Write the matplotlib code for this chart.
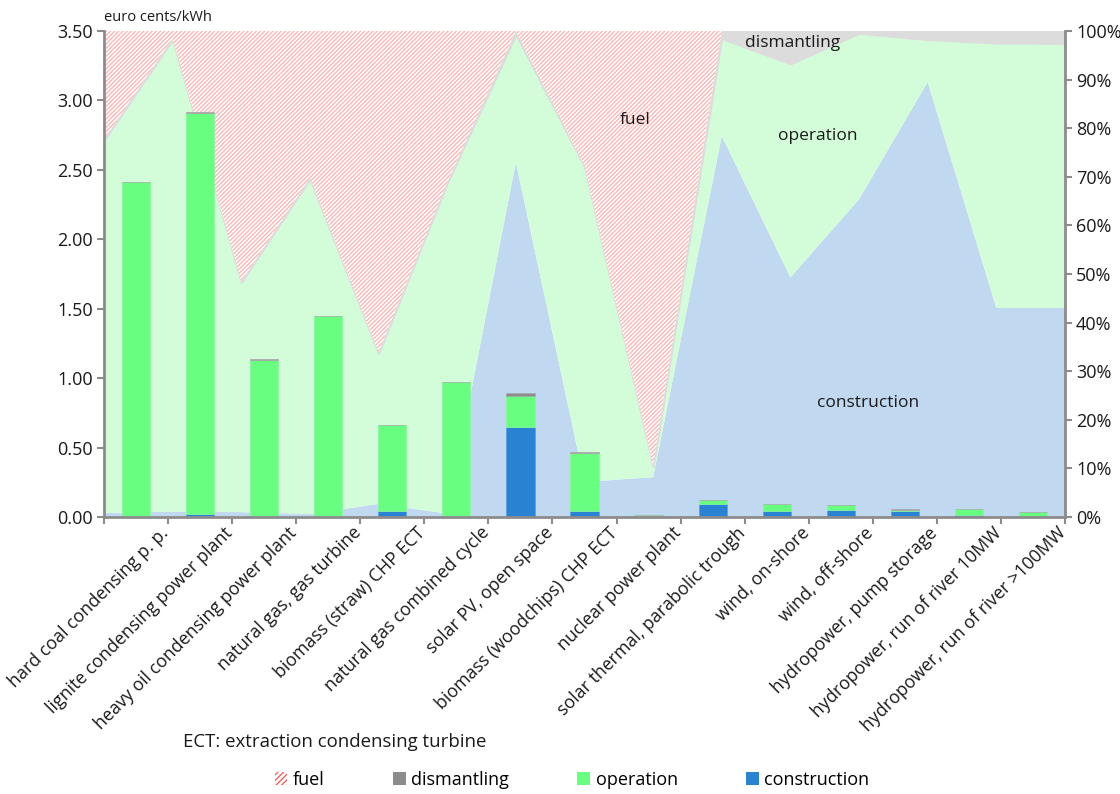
import matplotlib
matplotlib.use("Agg")
import matplotlib.pyplot as plt
from matplotlib.patches import Patch
from matplotlib.ticker import FuncFormatter, FixedLocator
import numpy as np

plt.rcParams['font.family'] = ['Open Sans', 'DejaVu Sans']
plt.rcParams['hatch.linewidth'] = 0.9

# categories
plants = ["hard coal condensing p. p.", "lignite condensing power plant",
          "heavy oil condensing power plant", "natural gas, gas turbine",
          "biomass (straw) CHP ECT", "natural gas combined cycle",
          "solar PV, open space", "biomass (woodchips) CHP ECT",
          "nuclear power plant", "solar thermal, parabolic trough",
          "wind, on-shore", "wind, off-shore", "hydropower, pump storage",
          "hydropower, run of river 10MW", "hydropower, run of river >100MW"]

# bars: euro cents/kWh
constr_bar = [0.010, 0.020, 0.010, 0.005, 0.043, 0.005, 0.649, 0.043, 0.010,
              0.094, 0.045, 0.053, 0.045, 0.017, 0.007]
oper_bar = [2.400, 2.893, 1.123, 1.440, 0.616, 0.964, 0.226, 0.420, 0.006,
            0.025, 0.047, 0.032, 0.008, 0.039, 0.026]
dism_bar = [0.004, 0.005, 0.004, 0.004, 0.004, 0.004, 0.017, 0.003, 0.002,
            0.004, 0.005, 0.002, 0.002, 0.002, 0.001]

# background areas: share in %
constr_share = [0.8, 1.1, 1.0, 0.6, 2.7, 0.7, 73.0, 7.2, 8.2, 78.4, 49.3, 65.4, 89.5, 43.0, 43.0]
oper_share = [76.6, 97.1, 47.2, 68.9, 30.9, 67.9, 26.2, 64.8, 2.1, 20.0, 43.9, 34.1, 8.7, 54.5, 54.4]
dism_share = [0.3, 0.3, 0.3, 0.3, 0.3, 0.3, 0.8, 0.3, 0.3, 1.6, 6.8, 0.5, 1.8, 2.5, 2.6]
fuel_share = [22.3, 1.5, 51.5, 30.2, 66.1, 31.1, 0.0, 27.7, 89.4, 0.0, 0.0, 0.0, 0.0, 0.0, 0.0]

c_bar_con = '#2a82d2'
c_bar_op = '#68ff80'
c_bar_dis = '#8c8c8c'
c_area_con = '#c0d9f1'
c_area_op = '#d3fdd8'
c_area_dis = '#dcdcdc'
c_fuel = '#ffb0b0'
spine_c = '#8c8c8c'
txt_c = '#1a1a1a'

fig = plt.figure(figsize=(11.2, 7.94), dpi=100)
pos = [104/1120, 1 - 517/794, 961/1120, 486/794]

###############################################################################
# area chart (right axis)
ax2 = fig.add_axes(pos)
xa = np.arange(len(plants))
b0 = np.zeros(len(plants))
b1 = b0 + np.array(constr_share)
b2 = b1 + np.array(oper_share)
b3 = b2 + np.array(dism_share)
b4 = b3 + np.array(fuel_share)
ax2.fill_between(xa, b0, b1, facecolor=c_area_con, lw=0)
ax2.fill_between(xa, b1, b2, facecolor=c_area_op, lw=0)
ax2.fill_between(xa, b2, b3, facecolor=c_area_dis, edgecolor=c_area_dis, lw=1.2)
ax2.fill_between(xa, b3, b4, facecolor='white', edgecolor=c_fuel, hatch='////////', lw=0)
ax2.set_xlim(0, len(plants) - 1)
ax2.set_ylim(0, 100)
ax2.yaxis.tick_right()
ax2.set_yticks(np.arange(0, 101, 10))
ax2.yaxis.set_major_formatter(FuncFormatter(lambda v, p: "%d%%" % v))
ax2.set_xticks([])
for s in ['top', 'left', 'bottom']:
    ax2.spines[s].set_visible(False)
ax2.spines['right'].set_color(spine_c)
ax2.spines['right'].set_linewidth(2)
ax2.tick_params(axis='y', colors=spine_c, width=1.5, length=5, labelsize=13,
                labelcolor=txt_c, pad=3)

###############################################################################
# stacked bars (left axis)
ax = fig.add_axes(pos)
ax.patch.set_visible(False)
x = np.arange(len(plants))
w = 0.44
ax.bar(x, constr_bar, w, color=c_bar_con, edgecolor='#5aa0e0', lw=0.5)
ax.bar(x, oper_bar, w, bottom=constr_bar, color=c_bar_op, edgecolor='#8cf5a0', lw=0.5)
ax.bar(x, dism_bar, w, bottom=np.array(constr_bar) + np.array(oper_bar),
       color=c_bar_dis, edgecolor='#aaaaaa', lw=0.5)
ax.set_xlim(-0.5, len(plants) - 0.5)
ax.set_ylim(0, 3.5)
ax.set_yticks(np.arange(0, 3.51, 0.5))
ax.yaxis.set_major_formatter(FuncFormatter(lambda v, p: "%.2f" % v))
ax.xaxis.set_major_locator(FixedLocator(np.arange(-0.5, len(plants), 1.0)))
ax.set_xticklabels([])
for s in ['top', 'right']:
    ax.spines[s].set_visible(False)
for s in ['left', 'bottom']:
    ax.spines[s].set_color(spine_c)
    ax.spines[s].set_linewidth(2)
ax.tick_params(colors=spine_c, width=1.5, length=5, labelsize=13,
               labelcolor=txt_c, pad=3)

# rotated category labels
for i, lab in enumerate(plants):
    ax.text(i + 0.37, -0.014, lab, transform=ax.get_xaxis_transform(),
            rotation=45, rotation_mode='anchor', ha='right', va='top',
            fontsize=12.8, color=txt_c)

ax.text(0, 1.012, "euro cents/kWh", transform=ax.transAxes, fontsize=10.5,
        ha='left', va='bottom', color=txt_c)

# area labels
fig.text(635/1120, 1 - 120/794, "fuel", fontsize=12.5, ha='center', va='center', color=txt_c)
fig.text(818/1120, 1 - 136/794, "operation", fontsize=12.5, ha='center', va='center', color=txt_c)
fig.text(793/1120, 1 - 43/794, "dismantling", fontsize=12.5, ha='center', va='center', color=txt_c)
fig.text(868/1120, 1 - 403/794, "construction", fontsize=12.5, ha='center', va='center', color=txt_c)

fig.text(183/1120, 1 - 742/794, "ECT: extraction condensing turbine", fontsize=13.4,
         ha='left', va='center', color=txt_c)

handles = [Patch(facecolor='white', edgecolor='#ff5050', hatch='//////', lw=0),
           Patch(facecolor=c_bar_dis), Patch(facecolor=c_bar_op), Patch(facecolor=c_bar_con)]
fig.legend(handles, ["fuel", "dismantling", "operation", "construction"],
           loc='center', bbox_to_anchor=(572/1120, 1 - 780/794), ncol=4, frameon=False,
           fontsize=13, handlelength=0.7, handleheight=0.7, handletextpad=0.3,
           columnspacing=3.8)

plt.savefig("out.png", dpi=100)
